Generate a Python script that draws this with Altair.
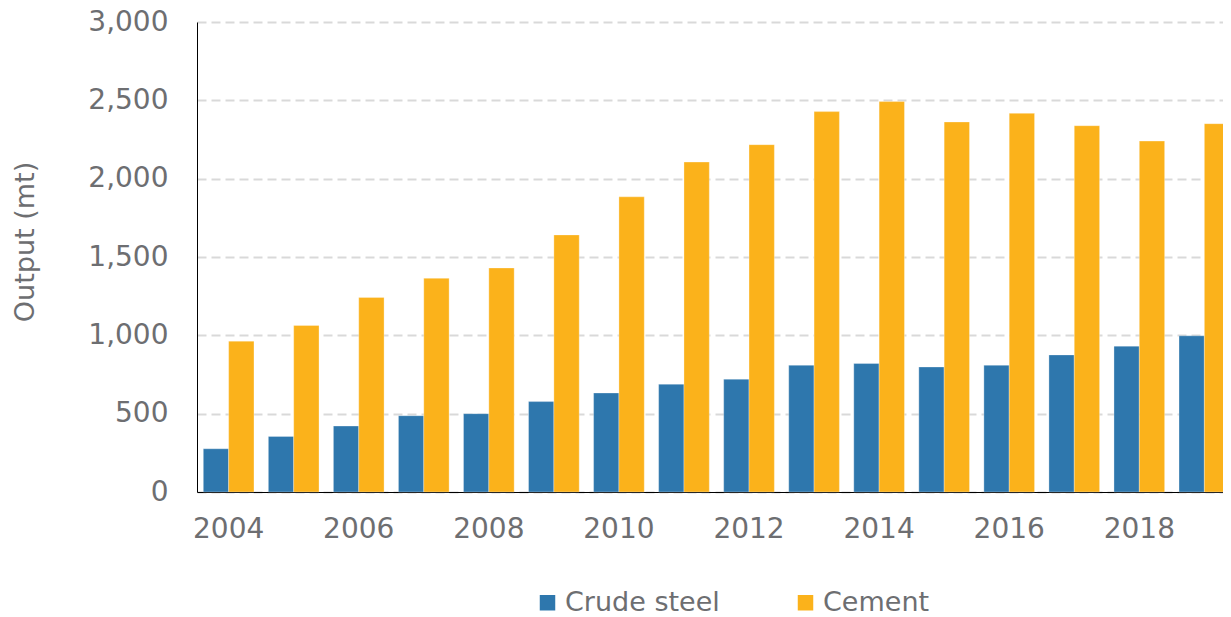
import altair as alt
import pandas as pd

years = ["2004", "2005", "2006", "2007", "2008", "2009", "2010", "2011",
         "2012", "2013", "2014", "2015", "2016", "2017", "2018", "2019"]
crude_steel = [276, 355, 421, 487, 500, 577, 632, 688, 720, 809, 820, 798, 809, 875, 931, 997]
cement = [963, 1063, 1242, 1364, 1430, 1641, 1884, 2106, 2217, 2428, 2492, 2362, 2417, 2338, 2240, 2351]
series_names = ["Crude steel", "Cement"]
series_colors = ["#2e77ad", "#fbb21b"]
year_labels = ["2004", "2006", "2008", "2010", "2012", "2014", "2016", "2018"]
y_ticks = [0, 500, 1000, 1500, 2000, 2500, 3000]

rows = []
for i, yr in enumerate(years):
    rows.append({"year": yr, "series": series_names[0], "value": crude_steel[i]})
    rows.append({"year": yr, "series": series_names[1], "value": cement[i]})
df = pd.DataFrame(rows)

FONT = "DejaVu Sans"
GREY = "#6d6e71"

chart = alt.Chart(df).mark_bar(stroke="white", strokeOpacity=0.3, strokeWidth=1).encode(
    x=alt.X("year:O", sort=years,
            scale=alt.Scale(range=[0, 1039], paddingInner=0.221, paddingOuter=0.097),
            axis=alt.Axis(title=None, values=year_labels, labelAngle=0, ticks=False,
                          labelPadding=23, domainColor="black", domainWidth=1,
                          labelFont=FONT, labelFontSize=28, labelColor=GREY, grid=False)),
    xOffset=alt.XOffset("series:N", sort=series_names,
                        scale=alt.Scale(paddingInner=0, paddingOuter=0)),
    y=alt.Y("value:Q", scale=alt.Scale(domain=[0, 3000], nice=False),
            axis=alt.Axis(values=y_ticks, format=",.0f", title="Output (mt)", ticks=False,
                          labelPadding=29, domainColor="black", domainWidth=1,
                          labelFont=FONT, labelFontSize=28, labelColor=GREY,
                          titleFont=FONT, titleFontSize=27, titleColor=GREY,
                          titleFontWeight="normal", titleAngle=270, titleX=-172, titleY=219.5,
                          titleAlign="center", titleBaseline="middle",
                          grid=True, gridColor="#d9d9d9", gridDash=[9, 5], gridWidth=2)),
    color=alt.Color("series:N", sort=series_names,
                    scale=alt.Scale(domain=series_names, range=series_colors),
                    legend=alt.Legend(title=None, orient="none", legendX=337, legendY=567,
                                      direction="horizontal", symbolType="square",
                                      symbolSize=240, symbolStrokeWidth=0,
                                      labelFont=FONT, labelFontSize=27, labelColor=GREY,
                                      labelOffset=4, columnPadding=72)),
).properties(
    width=1026, height=470,
    autosize=alt.AutoSizeParams(type="none"),
    padding={"left": 189, "top": 14, "right": 0, "bottom": 123},
).configure_view(stroke=None)

chart.save("out.html", embed_options={"renderer": "svg", "actions": False})
